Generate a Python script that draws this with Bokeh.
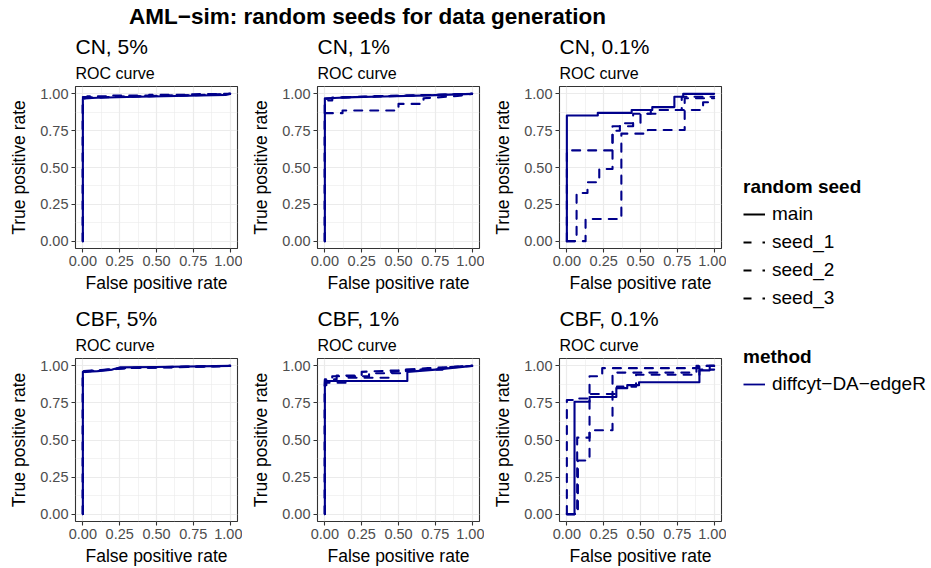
from bokeh.plotting import figure
from bokeh.layouts import row, column
from bokeh.models import (Range1d, FixedTicker, PrintfTickFormatter, Label,
                          Legend, LegendItem)
from bokeh.embed import file_html
from bokeh.resources import INLINE

FONT = "Liberation Sans"
LINE_COLOR = "#00008B"

main_title = "AML\u2212sim: random seeds for data generation"
panel_titles = ["CN, 5%", "CN, 1%", "CN, 0.1%", "CBF, 5%", "CBF, 1%", "CBF, 0.1%"]
panel_subtitle = "ROC curve"
seed_names = ["main", "seed_1", "seed_2", "seed_3"]
method_name = "diffcyt\u2212DA\u2212edgeR"
axis_ticks = [0.0, 0.25, 0.5, 0.75, 1.0]
minor_ticks = [0.125, 0.375, 0.625, 0.875]

# ---- CN, 5% ----
cn5_main_fpr = [0, 0, 0.02, 0.10, 0.30, 0.55, 0.80, 0.97, 1.00]
cn5_main_tpr = [0, 0.966, 0.970, 0.974, 0.979, 0.984, 0.989, 0.993, 1.00]
cn5_seed1_fpr = [0, 0, 0.03, 0.03, 0.20, 0.20, 0.45, 0.45, 0.70, 0.70, 1.00]
cn5_seed1_tpr = [0, 0.978, 0.978, 0.984, 0.984, 0.989, 0.989, 0.993, 0.993, 0.997, 1.00]
cn5_seed2_fpr = [0, 0, 0.05, 0.30, 0.60, 0.90, 1.00]
cn5_seed2_tpr = [0, 0.972, 0.976, 0.982, 0.988, 0.994, 1.00]
cn5_seed3_fpr = [0, 0, 0.01, 0.15, 0.40, 0.75, 1.00]
cn5_seed3_tpr = [0, 0.962, 0.970, 0.977, 0.984, 0.991, 1.00]

# ---- CN, 1% ----
cn1_main_fpr = [0, 0, 0.06, 0.20, 0.40, 0.70, 1.00]
cn1_main_tpr = [0, 0.970, 0.972, 0.978, 0.982, 0.990, 1.00]
cn1_seed1_fpr = [0, 0, 0.12, 0.12, 0.50, 0.50, 0.67, 0.67, 0.90, 1.00]
cn1_seed1_tpr = [0, 0.869, 0.869, 0.887, 0.887, 0.932, 0.932, 0.970, 0.985, 1.00]
cn1_seed2_fpr = [0, 0, 0.05, 0.05, 0.30, 0.60, 1.00]
cn1_seed2_tpr = [0, 0.955, 0.955, 0.975, 0.980, 0.990, 1.00]
cn1_seed3_fpr = [0, 0, 0.10, 0.35, 0.65, 1.00]
cn1_seed3_tpr = [0, 0.965, 0.975, 0.985, 0.990, 1.00]

# ---- CN, 0.1% ----
cn01_main_fpr = [0, 0, 0.21, 0.21, 0.44, 0.44, 0.58, 0.58, 0.73, 0.73, 0.79, 0.79, 1.00]
cn01_main_tpr = [0, 0.853, 0.853, 0.871, 0.871, 0.890, 0.890, 0.910, 0.910, 0.980, 0.980, 1.00, 1.00]
cn01_seed1_fpr = [0, 0, 0.31, 0.31, 0.45, 0.45, 0.57, 0.57, 0.78, 0.78, 1.00]
cn01_seed1_tpr = [0, 0.616, 0.616, 0.780, 0.780, 0.865, 0.865, 0.890, 0.890, 0.980, 0.980]
cn01_seed2_fpr = [0, 0.066, 0.066, 0.14, 0.14, 0.22, 0.22, 0.31, 0.31, 0.36, 0.36, 0.50, 0.50, 0.63, 0.63, 0.80, 0.80, 1.00]
cn01_seed2_tpr = [0, 0, 0.327, 0.327, 0.40, 0.40, 0.49, 0.49, 0.75, 0.75, 0.80, 0.80, 0.865, 0.865, 0.89, 0.89, 0.97, 0.97]
cn01_seed3_fpr = [0, 0.127, 0.127, 0.37, 0.37, 0.55, 0.55, 0.80, 0.80, 0.925, 0.925, 1.00]
cn01_seed3_tpr = [0, 0, 0.150, 0.150, 0.730, 0.730, 0.755, 0.755, 0.890, 0.890, 0.943, 0.943]

# ---- CBF, 5% ----
cbf5_main_fpr = [0, 0, 0.10, 0.20, 0.25, 0.50, 1.00]
cbf5_main_tpr = [0, 0.960, 0.965, 0.975, 0.990, 0.993, 1.00]
cbf5_seed1_fpr = [0, 0, 0.10, 0.20, 0.25, 0.60, 1.00]
cbf5_seed1_tpr = [0, 0.965, 0.970, 0.975, 0.985, 0.990, 1.00]
cbf5_seed2_fpr = [0, 0, 0.05, 0.20, 0.35, 0.70, 1.00]
cbf5_seed2_tpr = [0, 0.955, 0.965, 0.980, 0.988, 0.995, 1.00]
cbf5_seed3_fpr = [0, 0, 0.15, 0.30, 0.50, 1.00]
cbf5_seed3_tpr = [0, 0.962, 0.972, 0.985, 0.990, 1.00]

# ---- CBF, 1% ----
cbf1_main_fpr = [0, 0, 0.01, 0.01, 0.56, 0.56, 0.75, 1.00]
cbf1_main_tpr = [0, 0.870, 0.870, 0.898, 0.898, 0.960, 0.975, 1.00]
cbf1_seed1_fpr = [0, 0, 0.05, 0.05, 0.30, 0.30, 0.55, 0.55, 0.80, 0.80, 1.00]
cbf1_seed1_tpr = [0, 0.900, 0.900, 0.930, 0.930, 0.950, 0.950, 0.975, 0.975, 0.990, 1.00]
cbf1_seed2_fpr = [0, 0, 0.16, 0.16, 0.45, 0.45, 0.80, 1.00]
cbf1_seed2_tpr = [0, 0.886, 0.886, 0.920, 0.920, 0.960, 0.985, 1.00]
cbf1_seed3_fpr = [0, 0, 0.08, 0.08, 0.25, 0.25, 0.50, 0.70, 1.00]
cbf1_seed3_tpr = [0, 0.910, 0.910, 0.935, 0.935, 0.960, 0.970, 0.985, 1.00]

# ---- CBF, 0.1% ----
cbf01_main_fpr = [0, 0.052, 0.052, 0.154, 0.154, 0.336, 0.336, 0.41, 0.41, 0.49, 0.49, 0.90, 0.90, 0.97, 0.97, 1.00]
cbf01_main_tpr = [0, 0, 0.758, 0.758, 0.790, 0.790, 0.850, 0.850, 0.870, 0.870, 0.890, 0.890, 0.970, 0.970, 1.00, 1.00]
cbf01_seed1_fpr = [0, 0, 0.05, 0.05, 0.15, 0.15, 0.34, 0.34, 0.47, 0.47, 0.90, 0.90, 1.00]
cbf01_seed1_tpr = [0, 0.770, 0.770, 0.780, 0.780, 0.810, 0.810, 0.860, 0.860, 0.940, 0.940, 0.975, 0.975]
cbf01_seed2_fpr = [0, 0.075, 0.075, 0.154, 0.154, 0.31, 0.31, 0.88, 0.88, 1.00]
cbf01_seed2_tpr = [0, 0, 0.362, 0.362, 0.566, 0.566, 0.955, 0.955, 1.00, 1.00]
cbf01_seed3_fpr = [0, 0.07, 0.07, 0.154, 0.154, 0.24, 0.24, 0.90, 0.90, 1.00]
cbf01_seed3_tpr = [0, 0, 0.516, 0.516, 0.930, 0.930, 0.985, 0.985, 1.00, 1.00]

panel_curves = [
    [(cn5_main_fpr, cn5_main_tpr), (cn5_seed1_fpr, cn5_seed1_tpr),
     (cn5_seed2_fpr, cn5_seed2_tpr), (cn5_seed3_fpr, cn5_seed3_tpr)],
    [(cn1_main_fpr, cn1_main_tpr), (cn1_seed1_fpr, cn1_seed1_tpr),
     (cn1_seed2_fpr, cn1_seed2_tpr), (cn1_seed3_fpr, cn1_seed3_tpr)],
    [(cn01_main_fpr, cn01_main_tpr), (cn01_seed1_fpr, cn01_seed1_tpr),
     (cn01_seed2_fpr, cn01_seed2_tpr), (cn01_seed3_fpr, cn01_seed3_tpr)],
    [(cbf5_main_fpr, cbf5_main_tpr), (cbf5_seed1_fpr, cbf5_seed1_tpr),
     (cbf5_seed2_fpr, cbf5_seed2_tpr), (cbf5_seed3_fpr, cbf5_seed3_tpr)],
    [(cbf1_main_fpr, cbf1_main_tpr), (cbf1_seed1_fpr, cbf1_seed1_tpr),
     (cbf1_seed2_fpr, cbf1_seed2_tpr), (cbf1_seed3_fpr, cbf1_seed3_tpr)],
    [(cbf01_main_fpr, cbf01_main_tpr), (cbf01_seed1_fpr, cbf01_seed1_tpr),
     (cbf01_seed2_fpr, cbf01_seed2_tpr), (cbf01_seed3_fpr, cbf01_seed3_tpr)],
]

DASH = "8 8"
PANEL_W = 242
LEFT = 75


def blank_fig(width, height):
    f = figure(width=width, height=height, output_backend="svg", toolbar_location=None,
               x_range=Range1d(0, 1), y_range=Range1d(0, 1),
               x_axis_type=None, y_axis_type=None, min_border=0,
               outline_line_color=None)
    return f


def make_header(title):
    # this figure's frame is aligned with the panel frame below it
    h = blank_fig(PANEL_W, 54)
    h.add_layout(Label(x=0, y=40, x_units="screen", y_units="screen",
                       text=title, text_align="left", text_baseline="middle",
                       text_font=FONT, text_font_size="21px", text_color="black"))
    h.add_layout(Label(x=0, y=13.5, x_units="screen", y_units="screen",
                       text=panel_subtitle, text_align="left", text_baseline="middle",
                       text_font=FONT, text_font_size="16px", text_color="black"))
    return h


def make_panel(curves, height, bottom):
    p = figure(width=PANEL_W, height=height, output_backend="svg", toolbar_location=None,
               x_range=Range1d(-0.05, 1.05), y_range=Range1d(-0.05, 1.05),
               min_border_left=LEFT, min_border_right=5, min_border_top=0,
               min_border_bottom=bottom,
               background_fill_color="white", border_fill_color="white")
    for ax in (p.xaxis[0], p.yaxis[0]):
        ax.ticker = FixedTicker(ticks=axis_ticks, minor_ticks=minor_ticks)
        ax.formatter = PrintfTickFormatter(format="%.2f")
        ax.axis_line_color = None
        ax.major_tick_line_color = "#333333"
        ax.major_tick_line_width = 1.1
        ax.major_tick_out = 4
        ax.major_tick_in = 0
        ax.minor_tick_line_color = None
        ax.major_label_text_font = FONT
        ax.major_label_text_font_size = "14.5px"
        ax.major_label_text_color = "#4D4D4D"
        ax.major_label_standoff = 3
        ax.axis_label_text_font = FONT
        ax.axis_label_text_font_size = "17.5px"
        ax.axis_label_text_font_style = "normal"
        ax.axis_label_text_color = "black"
    p.yaxis.axis_label_standoff = 8
    p.xaxis.axis_label_standoff = 4
    p.xaxis.axis_label = "False positive rate"
    p.yaxis.axis_label = "True positive rate"
    p.grid.grid_line_color = "#EBEBEB"
    p.grid.grid_line_width = 1.2
    p.grid.minor_grid_line_color = "#EBEBEB"
    p.grid.minor_grid_line_width = 0.6
    p.outline_line_color = "#333333"
    p.outline_line_width = 1.1
    for i, (fx, ty) in enumerate(curves):
        p.line(fx, ty, line_color=LINE_COLOR, line_width=2.1,
               line_dash="solid" if i == 0 else DASH,
               line_cap="round", line_join="round")
    return p


cells = []
for k in range(6):
    if k < 3:
        pnl = make_panel(panel_curves[k], 218, 56)
    else:
        pnl = make_panel(panel_curves[k], 210, 47)
    cells.append(column(make_header(panel_titles[k]), pnl))

# ---- title figure ----
tf = blank_fig(726, 32)
tf.add_layout(Label(x=367, y=16, x_units="screen", y_units="screen", text=main_title,
                    text_align="center", text_baseline="middle", text_font=FONT,
                    text_font_size="22.5px", text_font_style="bold", text_color="black"))

# ---- legend figure ----
leg = blank_fig(205, 568)
# key-only renderers: their data lie outside the visible range
key_x = [0.0, 0.1]
key_y = [-5.0, -5.0]
seed_renderers = []
for i, name in enumerate(seed_names):
    r = leg.line(x=key_x, y=key_y, line_color="black", line_width=2,
                 line_dash="solid" if i == 0 else "8 11")
    seed_renderers.append(r)
meth_r = leg.line(x=key_x, y=key_y, line_color=LINE_COLOR, line_width=1.8)


def style_legend(lg):
    lg.title_text_font = FONT
    lg.title_text_font_size = "19px"
    lg.title_text_font_style = "bold"
    lg.title_text_color = "black"
    lg.title_standoff = 4
    lg.label_text_font = FONT
    lg.label_text_font_size = "19px"
    lg.label_text_color = "black"
    lg.glyph_width = 22
    lg.glyph_height = 24
    lg.label_height = 24
    lg.label_standoff = 7
    lg.spacing = 4
    lg.padding = 0
    lg.margin = 0
    lg.border_line_color = None
    lg.background_fill_alpha = 0


legend1 = Legend(items=[LegendItem(label=n, renderers=[r]) for n, r in zip(seed_names, seed_renderers)],
                 title="random seed", location=(17, 258))
style_legend(legend1)
legend2 = Legend(items=[LegendItem(label=method_name, renderers=[meth_r])],
                 title="method", location=(17, 172))
style_legend(legend2)
leg.add_layout(legend1)
leg.add_layout(legend2)

layout = row(column(tf, row(cells[0], cells[1], cells[2]),
                    row(cells[3], cells[4], cells[5])), leg)

open("out.html", "w").write(file_html(layout, INLINE))
